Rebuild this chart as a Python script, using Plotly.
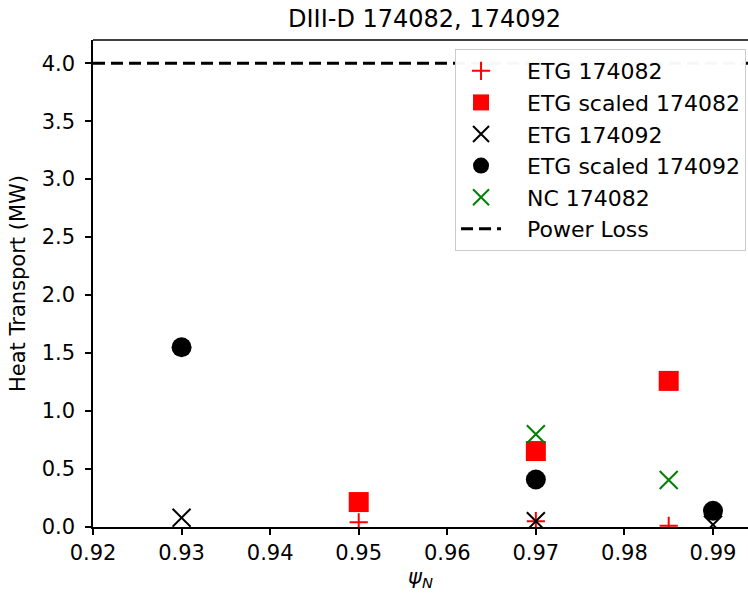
import plotly.graph_objects as go

NBSP = "\u00a0"

# Data
etg_082_x = [0.95, 0.97, 0.985]
etg_082_y = [0.04, 0.05, 0.01]
etg_scaled_082_x = [0.95, 0.97, 0.985]
etg_scaled_082_y = [0.215, 0.655, 1.26]
etg_092_x = [0.93, 0.97, 0.99]
etg_092_y = [0.08, 0.05, 0.02]
etg_scaled_092_x = [0.93, 0.97, 0.99]
etg_scaled_092_y = [1.55, 0.41, 0.14]
nc_082_x = [0.97, 0.985]
nc_082_y = [0.80, 0.405]
power_loss_x = [0.92, 0.995]
power_loss_y = [4.0, 4.0]

x_ticks = [0.92, 0.93, 0.94, 0.95, 0.96, 0.97, 0.98, 0.99]
x_tick_labels = ["0.92", "0.93", "0.94", "0.95", "0.96", "0.97", "0.98", "0.99"]
y_ticks = [0.0, 0.5, 1.0, 1.5, 2.0, 2.5, 3.0, 3.5, 4.0]
y_tick_labels = ["0.0", "0.5", "1.0", "1.5", "2.0", "2.5", "3.0", "3.5", "4.0"]

FONT = "DejaVu Sans"
pad = NBSP * 3

fig = go.Figure()
fig.add_trace(go.Scatter(
    x=etg_082_x, y=etg_082_y, mode="markers", name=pad + "ETG 174082", legendgroup="a",
    marker=dict(symbol="cross-thin", size=13, color="red", line=dict(color="red", width=2))))
fig.add_trace(go.Scatter(
    x=etg_scaled_082_x, y=etg_scaled_082_y, mode="markers", name=pad + "ETG scaled 174082", legendgroup="b",
    marker=dict(symbol="square", size=20, color="red", line=dict(width=0))))
fig.add_trace(go.Scatter(
    x=etg_092_x, y=etg_092_y, mode="markers", name=pad + "ETG 174092", legendgroup="c",
    marker=dict(symbol="x-thin", size=18, color="black", line=dict(color="black", width=2))))
fig.add_trace(go.Scatter(
    x=etg_scaled_092_x, y=etg_scaled_092_y, mode="markers", name=pad + "ETG scaled 174092", legendgroup="d",
    marker=dict(symbol="circle", size=20, color="black", line=dict(width=0))))
fig.add_trace(go.Scatter(
    x=nc_082_x, y=nc_082_y, mode="markers", name=pad + "NC 174082", legendgroup="e",
    marker=dict(symbol="x-thin", size=18, color="green", line=dict(color="green", width=2))))
fig.add_trace(go.Scatter(
    x=power_loss_x, y=power_loss_y, mode="lines", name=pad + "Power Loss", legendgroup="f",
    line=dict(color="black", width=3, dash="12px,6px")))

fig.update_layout(
    width=748, height=596,
    margin=dict(l=93, r=0, t=40, b=69),
    paper_bgcolor="white", plot_bgcolor="white",
    font=dict(family=FONT, size=21, color="black"),
    title=dict(text="DIII-D 174082, 174092", xref="container", x=424.5 / 748, xanchor="center",
               yref="container", y=1 - 19 / 596, yanchor="middle",
               font=dict(family=FONT, size=24, color="black")),
    legend=dict(x=0.997, y=(527 - 49) / 487, xanchor="right", yanchor="top",
                bgcolor="rgba(255,255,255,0.97)", bordercolor="#cccccc", borderwidth=1,
                font=dict(family=FONT, size=22, color="black"),
                tracegroupgap=0, itemwidth=40),
    showlegend=True,
    shapes=[dict(type="line", xref="paper", yref="paper", x0=0, x1=1, y0=1, y1=1,
                 line=dict(color="black", width=1.5))],
)
fig.update_xaxes(
    range=[0.92, 0.92 + 655 / 8857], tickvals=x_ticks, ticktext=x_tick_labels,
    showline=True, linecolor="black", linewidth=1.5, mirror=False,
    ticks="outside", ticklen=6, tickwidth=1.5, tickcolor="black",
    showgrid=False, zeroline=False, tickfont=dict(size=21),
    title=dict(text="<i>ψ</i><sub><i>N</i></sub>", font=dict(family=FONT, size=21), standoff=2),
)
fig.update_yaxes(
    range=[0, 4.2], tickvals=y_ticks, ticktext=y_tick_labels,
    showline=True, linecolor="black", linewidth=1.5, mirror=False,
    ticks="outside", ticklen=6, tickwidth=1.5, tickcolor="black",
    showgrid=False, zeroline=False, ticklabelstandoff=6, tickfont=dict(size=21),
    title=dict(text="Heat Transport (MW)", font=dict(family=FONT, size=21), standoff=10),
)

fig.write_html("out.html")
